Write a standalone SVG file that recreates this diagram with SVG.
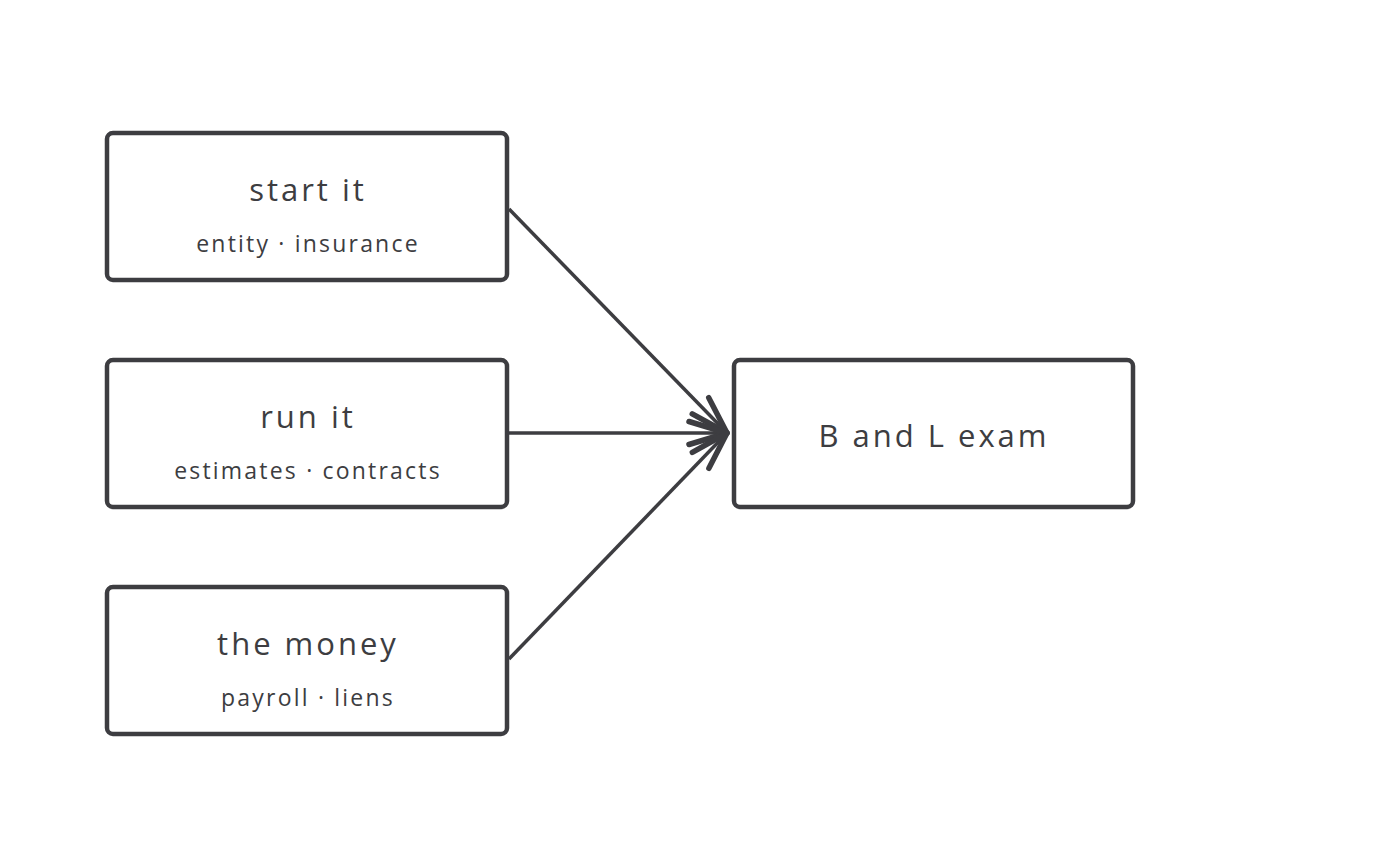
<svg xmlns="http://www.w3.org/2000/svg" width="1387" height="867" viewBox="0 0 1387 867">
<defs>
<style>
.box{fill:#fff;stroke:#3d3d41;stroke-width:4.5}
.t{font-family:"Open Sans","Liberation Sans",sans-serif;fill:#3d3d41;text-anchor:middle}
.h{font-size:31px;letter-spacing:3px}
.s{font-size:23px;letter-spacing:2.2px}
.c{stroke:#3d3d41;stroke-width:3.5;fill:none}
</style>
<marker id="ah" markerUnits="userSpaceOnUse" viewBox="-42 -16 46 32" refX="0" refY="0" markerWidth="46" markerHeight="32" orient="auto" overflow="visible">
<path d="M-38,-11.5 L0,0 L-38,11.5" fill="none" stroke="#3d3d41" stroke-width="5.5" stroke-linecap="round" stroke-linejoin="round"/>
</marker>
</defs>
<rect width="1387" height="867" fill="#fff"/>
<g id="connectors">
<path class="c" d="M509,209 L727,433" marker-end="url(#ah)"/>
<path class="c" d="M509,433 L727,433" marker-end="url(#ah)"/>
<path class="c" d="M509,659 L727,433" marker-end="url(#ah)"/>
</g>
<g id="start-it">
<rect class="box" x="107" y="133" width="400" height="147" rx="6"/>
<text class="t h" x="308" y="201">start it</text>
<text class="t s" x="308" y="252">entity · insurance</text>
</g>
<g id="run-it">
<rect class="box" x="107" y="360" width="400" height="147" rx="6"/>
<text class="t h" x="308" y="428">run it</text>
<text class="t s" x="308" y="479">estimates · contracts</text>
</g>
<g id="the-money">
<rect class="box" x="107" y="587" width="400" height="147" rx="6"/>
<text class="t h" x="308" y="655">the money</text>
<text class="t s" x="308" y="706">payroll · liens</text>
</g>
<g id="exam">
<rect class="box" x="734" y="360" width="399" height="147" rx="6"/>
<text class="t h" x="934" y="447">B and L exam</text>
</g>
</svg>
